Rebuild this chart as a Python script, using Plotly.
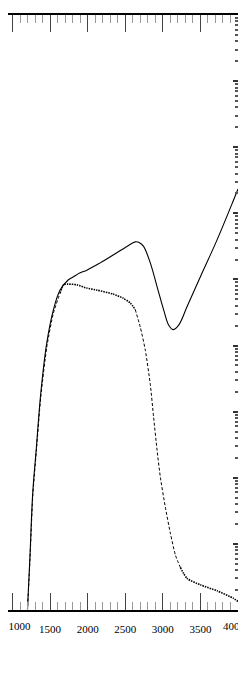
import plotly.graph_objects as go

# wavelength grid (x) and values (log y)
x_total = [1195, 1233, 1269, 1317, 1376, 1456, 1544, 1633, 1740, 1811, 1900, 1989,
           2167, 2340, 2523, 2633, 2690, 2744, 2833, 2923, 3011, 3077, 3136, 3211, 3323,
           3500, 3723, 3940, 4000]
y_total = [0.8, 6.8, 59, 282, 1.9e3, 1.1e4, 3.47e4, 6.9e4, 9.8e4, 1.1e5, 1.26e5, 1.38e5,
           1.78e5, 2.34e5, 3.16e5, 3.7e5, 3.6e5, 3.16e5, 1.78e5, 7.8e4, 3.47e4, 2.04e4, 1.74e4,
           2.04e4, 3.9e4, 1.1e5, 4.0e5, 1.58e6, 2.34e6]

x_comp = [1195, 1233, 1269, 1317, 1376, 1456, 1544, 1633, 1677, 1740, 1856, 1989,
          2123, 2340, 2473, 2567, 2633, 2700, 2767, 2833, 2877, 2923, 2967, 3033,
          3100, 3167, 3233, 3323, 3500, 3723, 3940, 4000]
y_comp = [0.8, 6.0, 52, 251, 1.66e3, 9.5e3, 3.1e4, 6.2e4, 8.3e4, 8.5e4, 8.3e4, 7.4e4,
          6.9e4, 6.0e4, 5.2e4, 4.4e4, 3.5e4, 1.9e4, 8.5e3, 2.6e3, 830, 263, 102, 36,
          14.5, 6.8, 4.4, 3.0, 2.4, 1.95, 1.5, 1.35]

# segments of the component curve: steep parts look dashed, flat parts dotted
segments = [(0, 8, "3px,2px", 1.0), (7, 17, "1.5px,1px", 1.6),
            (16, 27, "3px,2px", 1.0), (26, 32, "1.5px,1px", 1.6)]

x_range = [940, 4000]
x_ticks = [1000, 1500, 2000, 2500, 3000, 3500, 4000]
x_labels = ["1000", "1500", "2000", "2500", "3000", "3500", "4000"]

fig = go.Figure()
fig.add_trace(go.Scatter(x=x_total, y=y_total, mode="lines",
                         line=dict(color="black", width=1.1, shape="spline", smoothing=1.0),
                         showlegend=False))
for a, b, dash, w in segments:
    fig.add_trace(go.Scatter(x=x_comp[a:b], y=y_comp[a:b], mode="lines",
                             line=dict(color="black", width=w, dash=dash,
                                       shape="spline", smoothing=0.6),
                             showlegend=False))
# hidden traces on the overlay axes that carry the first and last tick labels
fig.add_trace(go.Scatter(x=x_total[-1:], y=y_total[-1:], xaxis="x2", mode="lines",
                         line=dict(width=0), hoverinfo="skip", showlegend=False))
fig.add_trace(go.Scatter(x=x_total[-1:], y=y_total[-1:], xaxis="x3", mode="lines",
                         line=dict(width=0), hoverinfo="skip", showlegend=False))

tick_font = dict(family="Liberation Serif", size=11, color="black")
label_axis = dict(range=x_range, overlaying="x", side="bottom", anchor="y",
                  tickmode="array", ticks="", showline=False, showgrid=False,
                  zeroline=False, automargin=False, ticklabelstandoff=8,
                  ticklabeloverflow="allow", tickfont=tick_font)

# the page body keeps its default 8px margin, so the figure is 8px smaller
fig.update_layout(
    width=238, height=665,
    margin=dict(l=0, r=8, t=7, b=63, autoexpand=False),
    paper_bgcolor="white", plot_bgcolor="white",
    font=dict(family="Liberation Serif", size=11, color="black"),
    xaxis=dict(
        range=x_range, tickmode="array", tickvals=x_ticks,
        ticktext=[""] + x_labels[1:-1] + [""], automargin=False,
        ticks="inside", ticklen=17, tickwidth=1, tickcolor="#444",
        showline=True, linewidth=2, linecolor="black", mirror="allticks",
        showgrid=False, zeroline=False, ticklabelstandoff=8, tickfont=tick_font,
        minor=dict(ticks="inside", dtick=100, tick0=1000, ticklen=8,
                   tickcolor="#999", showgrid=False),
    ),
    xaxis2=dict(label_axis, tickvals=x_ticks[:1], ticktext=x_labels[:1], ticklabelshift=7),
    xaxis3=dict(label_axis, tickvals=x_ticks[-1:], ticktext=x_labels[-1:], ticklabelshift=-4),
    yaxis=dict(
        type="log", range=[0, 9], side="right", dtick=1, automargin=False,
        ticks="inside", ticklen=5, tickwidth=1.5, tickcolor="#333",
        showticklabels=False, showline=True, linewidth=1, linecolor="#888",
        showgrid=False, zeroline=False,
        minor=dict(ticks="inside", dtick="D1", ticklen=3, tickcolor="#555", showgrid=False),
    ),
)
fig.write_html("out.html", config={"displayModeBar": False})
